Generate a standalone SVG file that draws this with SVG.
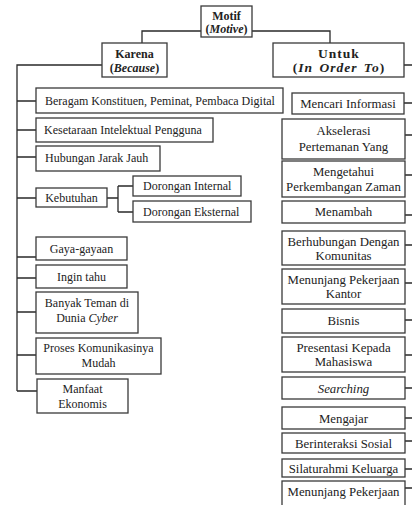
<svg xmlns="http://www.w3.org/2000/svg" width="412" height="505" viewBox="0 0 412 505" font-family="'Liberation Serif', 'Times New Roman', serif">
<style>
.b{fill:#fff;stroke:#3a3a3a;stroke-width:1.3}
.c{fill:none;stroke:#2a2a2a;stroke-width:1.3}
text{font-family:'Liberation Serif','Times New Roman',serif;font-size:12px;fill:#222}
.r{font-size:12.8px}
.m{text-anchor:middle}
.h{font-weight:bold}
.w{font-size:13.5px;letter-spacing:1px;word-spacing:2px}
</style>
<rect width="412" height="505" fill="#fff"/>
<g id="connectors">
<path class="c" d="M201 31H142V43M252 31H330V43"/>
<path class="c" d="M102 65H17V391"/>
<path class="c" d="M17 101H36M17 130H36M17 157H36M17 198H36M17 257H36M17 278H36M17 312H36M17 355H36M17 391H37"/>
<path class="c" d="M107 198H118M118 186V212M118 186H133M118 212H133"/>
<path class="c" d="M404 65H412M404 103H412M405 135H412M405 175H412M405 215H412M405 245H412M405 283H412M405 320H412M405 355H412M405 388H412M405 418H412M405 441H412M405 469H412M405 488H412"/>
</g>
<g id="motif"><rect class="b" x="201" y="6" width="51" height="31"/><text class="m h" x="226.5" y="20">Motif</text><text class="m h" x="226.5" y="33">(<tspan font-style="italic">Motive</tspan>)</text></g>
<g id="karena"><rect class="b" x="102" y="43" width="65" height="34"/><text class="m h" x="134.5" y="58">Karena</text><text class="m h" x="134.5" y="72">(<tspan font-style="italic">Because</tspan>)</text></g>
<g id="untuk"><rect class="b" x="273" y="43" width="131" height="34"/><text class="m h w" x="339" y="58">Untuk</text><text class="m h w" x="339" y="72">(<tspan font-style="italic">In Order To</tspan>)</text></g>
<g id="beragam"><rect class="b" x="36" y="88" width="247" height="25"/><text x="45" y="104.5">Beragam Konstituen, Peminat, Pembaca Digital</text></g>
<g id="kesetaraan"><rect class="b" x="36" y="118" width="177" height="24"/><text x="44" y="134">Kesetaraan Intelektual Pengguna</text></g>
<g id="hubungan"><rect class="b" x="36" y="146" width="124" height="25"/><text x="45" y="162">Hubungan Jarak Jauh</text></g>
<g id="kebutuhan"><rect class="b" x="36" y="188" width="71" height="19"/><text class="m" x="71.5" y="202">Kebutuhan</text></g>
<g id="internal"><rect class="b" x="133" y="176" width="108" height="20"/><text x="143" y="190">Dorongan Internal</text></g>
<g id="eksternal"><rect class="b" x="133" y="201" width="118" height="21"/><text x="143" y="216">Dorongan Eksternal</text></g>
<g id="gaya"><rect class="b" x="36" y="237" width="91" height="23"/><text class="m" x="81.5" y="252.5">Gaya-gayaan</text></g>
<g id="ingin"><rect class="b" x="36" y="265" width="91" height="23"/><text class="m" x="81.5" y="280.5">Ingin tahu</text></g>
<g id="banyak"><rect class="b" x="36" y="292" width="102" height="41"/><text class="m" x="87" y="307">Banyak Teman di</text><text class="m" x="87" y="322">Dunia <tspan font-style="italic">Cyber</tspan></text></g>
<g id="proses"><rect class="b" x="36" y="338" width="125" height="36"/><text class="m" x="98.5" y="352">Proses Komunikasinya</text><text class="m" x="98.5" y="367">Mudah</text></g>
<g id="manfaat"><rect class="b" x="37" y="379" width="91" height="34"/><text class="m" x="82.5" y="393">Manfaat</text><text class="m" x="82.5" y="408">Ekonomis</text></g>
<g id="mencari"><rect class="b" x="292" y="93" width="112" height="21"/><text class="m r" x="348" y="108">Mencari Informasi</text></g>
<g id="akselerasi"><rect class="b" x="282" y="119" width="123" height="40"/><text class="m r" x="343.5" y="135">Akselerasi</text><text class="m r" x="343.5" y="151">Pertemanan Yang</text></g>
<g id="mengetahui"><rect class="b" x="282" y="161" width="123" height="36"/><text class="m r" x="343.5" y="176">Mengetahui</text><text class="m r" x="343.5" y="191">Perkembangan Zaman</text></g>
<g id="menambah"><rect class="b" x="282" y="201" width="123" height="22"/><text class="m r" x="343.5" y="216">Menambah</text></g>
<g id="berhubungan"><rect class="b" x="282" y="231" width="123" height="34"/><text class="m r" x="343.5" y="246">Berhubungan Dengan</text><text class="m r" x="343.5" y="260">Komunitas</text></g>
<g id="kantor"><rect class="b" x="282" y="269" width="123" height="35"/><text class="m r" x="343.5" y="284">Menunjang Pekerjaan</text><text class="m r" x="343.5" y="298">Kantor</text></g>
<g id="bisnis"><rect class="b" x="282" y="309" width="123" height="24"/><text class="m r" x="343.5" y="324.5">Bisnis</text></g>
<g id="presentasi"><rect class="b" x="282" y="337" width="123" height="35"/><text class="m r" x="343.5" y="352">Presentasi Kepada</text><text class="m r" x="343.5" y="366">Mahasiswa</text></g>
<g id="searching"><rect class="b" x="282" y="377" width="123" height="22"/><text class="m r" x="343.5" y="392.5" font-style="italic">Searching</text></g>
<g id="mengajar"><rect class="b" x="282" y="407" width="123" height="22"/><text class="m r" x="343.5" y="422.5">Mengajar</text></g>
<g id="berinteraksi"><rect class="b" x="282" y="433" width="123" height="20"/><text class="m r" x="343.5" y="447.5">Berinteraksi Sosial</text></g>
<g id="silaturahmi"><rect class="b" x="282" y="459" width="123" height="18"/><text class="m r" x="343.5" y="472.5">Silaturahmi Keluarga</text></g>
<g id="menunjang"><rect class="b" x="282" y="481" width="123" height="30"/><text class="m r" x="343.5" y="496">Menunjang Pekerjaan</text></g>
</svg>
